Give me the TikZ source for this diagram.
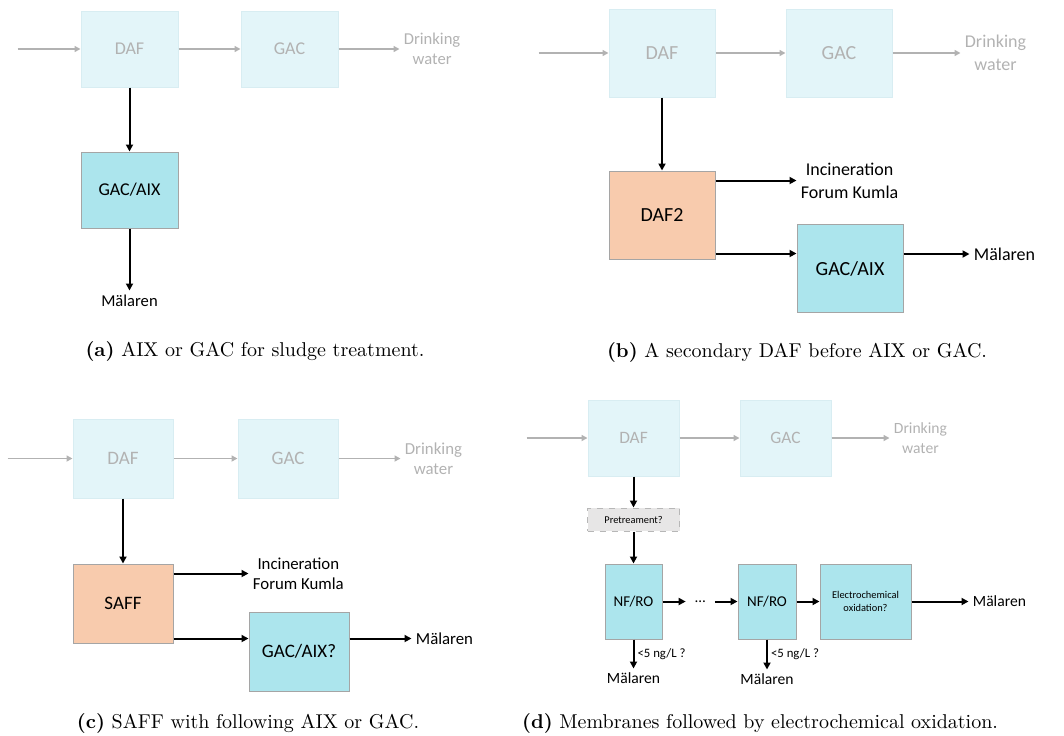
\documentclass[tikz,border=0pt]{standalone}
\usepackage{fontspec}
\newfontfamily\ppfont{Carlito}
\usetikzlibrary{positioning,calc,arrows.meta}
\definecolor{fadefill}{RGB}{227,245,249}
\definecolor{fadeline}{RGB}{216,237,242}
\definecolor{fadetext}{RGB}{178,178,178}
\definecolor{unitfill}{RGB}{172,229,237}
\definecolor{unitline}{RGB}{165,165,165}
\definecolor{sludgefill}{RGB}{248,203,173}
\definecolor{prefill}{RGB}{231,230,230}
\newcommand{\ppsize}[2]{\ppfont\fontsize{#1}{#2}\selectfont}
\tikzstyle{stage}=[rectangle, draw=unitline, line width=0.5pt, inner sep=1pt, align=center]
\tikzstyle{faded stage}=[stage, fill=fadefill, draw=fadeline, text=fadetext]
\tikzstyle{unit stage}=[stage, fill=unitfill]
\tikzstyle{sludge stage}=[stage, fill=sludgefill]
\tikzstyle{pre stage}=[stage, fill=prefill, dashed, draw=unitline!80]
\tikzstyle{note}=[align=center, inner sep=2pt]
\tikzstyle{flow}=[->, >={Triangle[length=3.5pt,width=3.5pt]}, line width=1pt, draw=black]
\tikzstyle{main flow}=[->, >={Triangle[length=3pt,width=3pt]}, line width=0.75pt, draw=fadetext]
\tikzstyle{subcaption}=[font=\fontsize{10}{12}\selectfont]

\begin{document}
\begin{tikzpicture}[x=0.5pt, y=-0.5pt]
  \useasboundingbox (0,0) rectangle (1064,735);

  % (a) GAC/AIX straight after DAF
  \begin{scope}[stage/.append style={minimum width=48.5pt, minimum height=38pt},
      font=\ppsize{9}{10.8}, note/.append style={font=\ppsize{8.3}{10}}]
    \node[faded stage] (dafA) at (129.5,49) {DAF};
    \node[faded stage, right=31pt of dafA] (gacA) {GAC};
    \node[note, right=30.5pt of gacA, text=fadetext] (drinkA) {Drinking\\water};
    \coordinate[left=31.5pt of dafA] (inA);
    \node[unit stage, below=32pt of dafA] (aixA) {GAC/AIX};
    \node[note, below=31pt of aixA] (malA) {Mälaren};

    \draw[main flow] (inA) -- (dafA);
    \draw[main flow] (dafA) -- (gacA);
    \draw[main flow] (gacA) -- (drinkA);
    \draw[flow] (dafA) -- (aixA);
    \draw[flow] (aixA) -- (malA);
  \end{scope}
  \node[subcaption] (capA) at (255,351) {\textbf{(a)} AIX or GAC for sludge treatment.};

  % (b) second DAF
  \begin{scope}[stage/.append style={minimum width=53pt, minimum height=44pt},
      font=\ppsize{10}{12}, note/.append style={font=\ppsize{9}{11.5}}]
    \node[faded stage] (dafB) at (662,53) {DAF};
    \node[faded stage, right=35pt of dafB] (gacB) {GAC};
    \node[note, right=34pt of gacB, text=fadetext] (drinkB) {Drinking\\water};
    \coordinate[left=35pt of dafB] (inB);
    \node[sludge stage, below=36.5pt of dafB] (dafB2) {DAF2};
    \node[note, right=40.5pt of dafB2.north east, yshift=-5pt] (incB) {Incineration\\Forum Kumla};
    \node[unit stage, right=40.5pt of dafB2, yshift=-26.75pt] (aixB) {GAC/AIX};
    \node[note, right=33pt of aixB.north east, yshift=-15pt] (malB) {Mälaren};
    \coordinate[above=3pt of dafB2.south east] (lowB);

    \draw[main flow] (inB) -- (dafB);
    \draw[main flow] (dafB) -- (gacB);
    \draw[main flow] (gacB) -- (drinkB);
    \draw[flow] (dafB) -- (dafB2);
    \draw[flow] (incB.west -| dafB2.east) -- (incB.west);
    \draw[flow] (lowB) -- (lowB -| aixB.west);
    \draw[flow] (malB.west -| aixB.east) -- (malB.west);
  \end{scope}
  \node[subcaption] (capB) at (797,352) {\textbf{(b)} A secondary DAF before AIX or GAC.};

  % (c) SAFF
  \begin{scope}[stage/.append style={minimum width=50pt, minimum height=39.5pt},
      font=\ppsize{9.5}{11.4}, note/.append style={font=\ppsize{8.4}{10}}]
    \node[faded stage] (dafC) at (123,458.5) {DAF};
    \node[faded stage, right=32pt of dafC] (gacC) {GAC};
    \node[note, right=31pt of gacC, text=fadetext] (drinkC) {Drinking\\water};
    \coordinate[left=32.5pt of dafC] (inC);
    \node[sludge stage, below=32.5pt of dafC] (saffC) {SAFF};
    \node[note, right=37.5pt of saffC.north east, yshift=-5pt] (incC) {Incineration\\Forum Kumla};
    \node[unit stage, right=37.5pt of saffC, yshift=-24pt] (aixC) {GAC/AIX?};
    \node[note, right=31pt of aixC.north east, yshift=-13.5pt] (malC) {Mälaren};
    \coordinate[above=2.5pt of saffC.south east] (lowC);

    \draw[main flow] (inC) -- (dafC);
    \draw[main flow] (dafC) -- (gacC);
    \draw[main flow] (gacC) -- (drinkC);
    \draw[flow] (dafC) -- (saffC);
    \draw[flow] (incC.west -| saffC.east) -- (incC.west);
    \draw[flow] (lowC) -- (lowC -| aixC.west);
    \draw[flow] (malC.west -| aixC.east) -- (malC.west);
  \end{scope}
  \node[subcaption] (capC) at (248,723) {\textbf{(c)} SAFF with following AIX or GAC.};

  % (d) membranes
  \begin{scope}[stage/.append style={minimum width=45.5pt, minimum height=38pt},
      font=\ppsize{8.7}{10.4}, note/.append style={font=\ppsize{7.8}{10}}]
    \node[faded stage] (dafD) at (633.5,438) {DAF};
    \node[faded stage, right=30pt of dafD] (gacD) {GAC};
    \node[note, right=29pt of gacD, text=fadetext] (drinkD) {Drinking\\water};
    \coordinate[left=30.5pt of dafD] (inD);
    \node[pre stage, below=15.5pt of dafD, minimum width=46pt, minimum height=11.5pt,
      font=\ppsize{5.2}{6.5}] (preD) {Pretreament?};
    \node[unit stage, below=16pt of preD, minimum width=28.5pt, minimum height=37.5pt,
      font=\ppsize{7.5}{9}] (nfD1) {NF/RO};
    \node[unit stage, right=37.5pt of nfD1, minimum width=29pt, minimum height=37.5pt,
      font=\ppsize{7.5}{9}] (nfD2) {NF/RO};
    \coordinate (middleD) at ($(nfD1)!.5!(nfD2)$);
    \node[inner xsep=4.5pt, inner ysep=1pt, font=\ppsize{7.5}{9}] (dotsD) at (middleD) {…};
    \node[unit stage, right=11.5pt of nfD2, minimum width=45.5pt, minimum height=37.5pt,
      font=\ppsize{5.2}{6.8}] (ecD) {Electrochemical\\oxidation?};
    \node[note, right=28.5pt of ecD] (malD) {Mälaren};
    \node[note, below=14.5pt of nfD1] (malD1) {Mälaren};
    \node[note, below=15pt of nfD2] (malD2) {Mälaren};

    \draw[main flow] (inD) -- (dafD);
    \draw[main flow] (dafD) -- (gacD);
    \draw[main flow] (gacD) -- (drinkD);
    \draw[flow] (dafD) -- (preD);
    \draw[flow] (preD) -- (nfD1);
    \draw[flow] (nfD1) -- (dotsD);
    \draw[flow] (dotsD) -- (nfD2);
    \draw[flow] (nfD2) -- (ecD);
    \draw[flow] (ecD) -- (malD);
    \draw[flow] (nfD1) -- node[right, inner sep=1.5pt, font=\ppsize{6.4}{7.7}] {<5 ng/L ?} (malD1);
    \draw[flow] (nfD2) -- node[right, inner sep=1.5pt, font=\ppsize{6.4}{7.7}] {<5 ng/L ?} (malD2);
  \end{scope}
  \node[subcaption] (capD) at (760,723) {\textbf{(d)} Membranes followed by electrochemical oxidation.};
\end{tikzpicture}
\end{document}
